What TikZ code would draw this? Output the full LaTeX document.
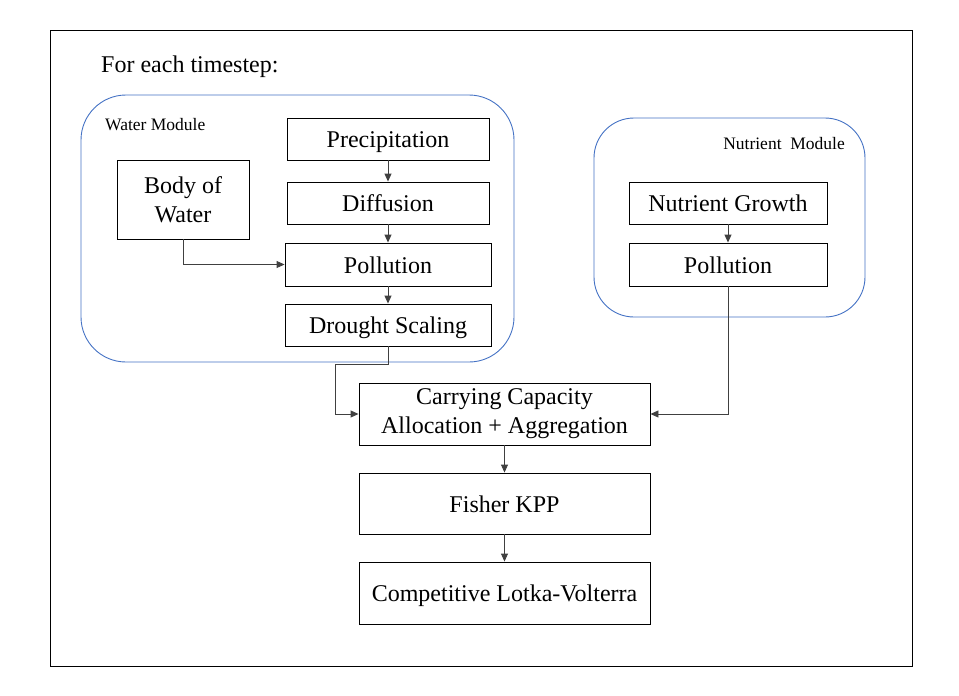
\documentclass[tikz,border=0pt]{standalone}
\usepackage{fontspec}
\setmainfont{Liberation Serif}
\usetikzlibrary{calc,arrows.meta}
\definecolor{modblue}{HTML}{4472C4}
\definecolor{linkgray}{HTML}{404040}
\tikzset{
    stage/.style={draw=black, line width=0.9pt, inner sep=0pt, align=center,
        font=\fontsize{24}{29}\selectfont},
    oneline/.style={text height=17pt, text depth=0pt},
    module/.style={draw=modblue, line width=0.9pt},
    link/.style={-{Triangle[length=8pt,width=7pt]}, draw=linkgray, line width=0.9pt},
    modlabel/.style={inner sep=0pt, font=\fontsize{17.5}{20}\selectfont}
}

\begin{document}
\begin{tikzpicture}[x=1pt,y=-1pt]
        \useasboundingbox (0,0) rectangle (959,696);
        \draw[line width=0.9pt] (50,30) rectangle (912,666);
        \node[inner sep=0pt, anchor=base west, font=\fontsize{24}{29}\selectfont] (title) at (101,72) {For each timestep:};

        % water module
        \draw[module, rounded corners=45pt] (81,95) rectangle (514,362);
        \node[modlabel, anchor=base west] (waterlbl) at (105,130) {Water Module};
        \node[stage, oneline, minimum width=202pt, minimum height=42pt] (prec) at (388,139) {Precipitation};
        \node[stage, oneline, minimum width=202pt, minimum height=42pt] (diff) at (388,203) {Diffusion};
        \node[stage, oneline, minimum width=206pt, minimum height=43pt] (wpol) at (388,264.5) {Pollution};
        \node[stage, oneline, minimum width=206pt, minimum height=42pt] (drought) at (388,325) {Drought Scaling};
        \node[stage, minimum width=132pt, minimum height=79pt] (body) at (183,199.5) {Body of\\Water};

        % nutrient module
        \draw[module, rounded corners=40pt] (594,118) rectangle (865,317);
        \node[modlabel, anchor=base east] (nutlbl) at (845,149) {Nutrient\ \ Module};
        \node[stage, oneline, minimum width=198pt, minimum height=42pt] (growth) at (728,203) {Nutrient Growth};
        \node[stage, oneline, minimum width=198pt, minimum height=43pt] (npol) at (728,264.5) {Pollution};

        % main chain
        \node[stage, minimum width=291pt, minimum height=62pt] (cap) at (504.5,414) {Carrying Capacity\\Allocation + Aggregation};
        \node[stage, oneline, minimum width=291pt, minimum height=61pt] (fisher) at (504.5,503.5) {Fisher KPP};
        \node[stage, oneline, minimum width=291pt, minimum height=62pt] (comp) at (504.5,593) {Competitive Lotka-Volterra};

        \coordinate (bend) at (335,364);

        \draw[link] (prec.south) -- (diff.north);
        \draw[link] (diff.south) -- (wpol.north);
        \draw[link] (wpol.south) -- (drought.north);
        \draw[link] (body.south) |- (wpol.west);
        \draw[link] (growth.south) -- (npol.north);
        \draw[link] (drought.south) |- (bend) |- (cap.west);
        \draw[link] (npol.south) |- (cap.east);
        \draw[link] (cap.south) -- (fisher.north);
        \draw[link] (fisher.south) -- (comp.north);
    \end{tikzpicture}
\end{document}
